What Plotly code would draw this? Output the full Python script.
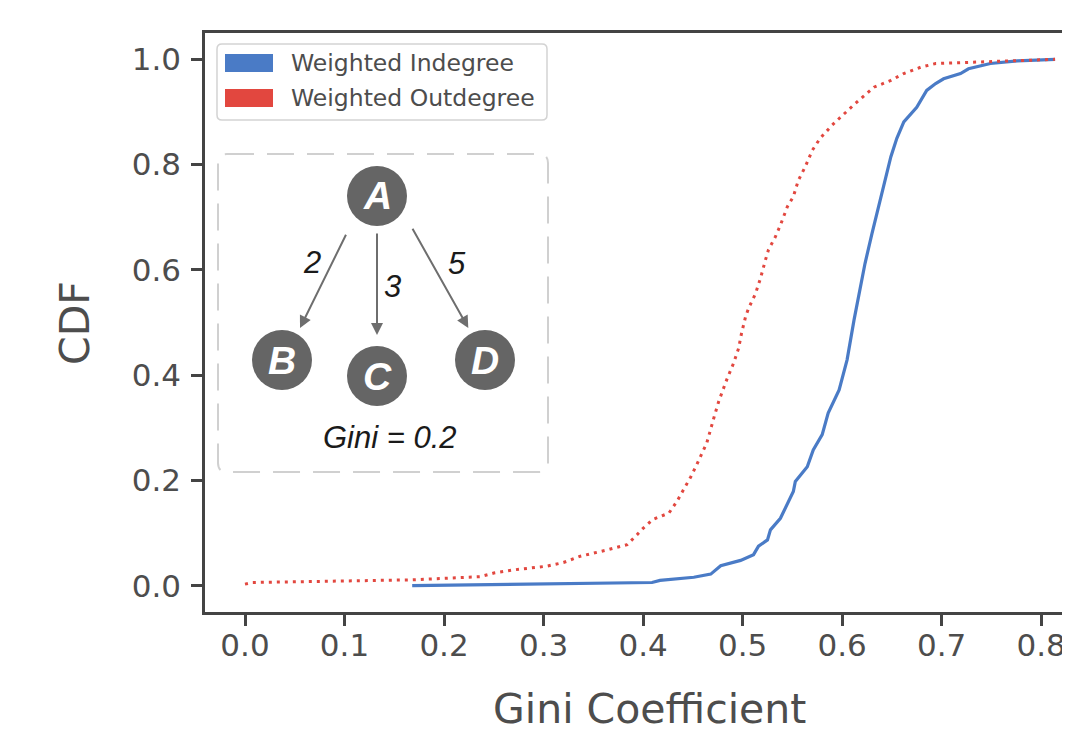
import plotly.graph_objects as go

# ---- data ----
indeg_x = [0.168, 0.30, 0.409, 0.417, 0.451, 0.468, 0.474, 0.478, 0.498, 0.511, 0.516, 0.525,
           0.528, 0.538, 0.551, 0.553, 0.565, 0.571, 0.580, 0.586, 0.597, 0.605, 0.612, 0.617,
           0.623, 0.630, 0.635, 0.640, 0.644, 0.649, 0.655, 0.662, 0.675, 0.685, 0.694, 0.702,
           0.719, 0.727, 0.749, 0.776, 0.814]
indeg_y = [0.000, 0.003, 0.006, 0.010, 0.016, 0.022, 0.032, 0.038, 0.048, 0.059, 0.075, 0.087,
           0.106, 0.128, 0.179, 0.198, 0.226, 0.258, 0.287, 0.328, 0.372, 0.429, 0.505, 0.555,
           0.612, 0.669, 0.707, 0.745, 0.777, 0.815, 0.850, 0.881, 0.909, 0.941, 0.954, 0.963,
           0.973, 0.982, 0.992, 0.997, 1.000]

outdeg_x = [0.000, 0.007, 0.102, 0.166, 0.236, 0.250, 0.270, 0.303, 0.320, 0.337, 0.364, 0.384,
            0.394, 0.400, 0.410, 0.426, 0.434, 0.442, 0.448, 0.454, 0.464, 0.471, 0.476, 0.484,
            0.491, 0.496, 0.499, 0.503, 0.506, 0.513, 0.518, 0.523, 0.526, 0.533, 0.538, 0.545,
            0.551, 0.556, 0.563, 0.570, 0.578, 0.590, 0.602, 0.612, 0.632, 0.649, 0.662, 0.679,
            0.694, 0.709, 0.742, 0.776, 0.814]
outdeg_y = [0.003, 0.006, 0.009, 0.011, 0.017, 0.024, 0.030, 0.037, 0.044, 0.056, 0.068, 0.078,
            0.097, 0.109, 0.126, 0.138, 0.160, 0.186, 0.207, 0.230, 0.271, 0.318, 0.350, 0.391,
            0.423, 0.451, 0.480, 0.511, 0.527, 0.555, 0.584, 0.619, 0.638, 0.663, 0.685, 0.720,
            0.739, 0.770, 0.796, 0.827, 0.850, 0.875, 0.897, 0.914, 0.947, 0.960, 0.973, 0.985,
            0.992, 0.993, 0.995, 0.998, 1.000]

series_names = ["Weighted Indegree", "Weighted Outdegree"]
series_colors = ["#4a7bc6", "#e2473f"]
x_ticks = [0.0, 0.1, 0.2, 0.3, 0.4, 0.5, 0.6, 0.7, 0.8]
y_ticks = [0.0, 0.2, 0.4, 0.6, 0.8, 1.0]

# ---- layout helpers (reference-pixel -> paper) ----
OFF = 8                      # page body margin of the html page
FIG_W, FIG_H = 1070 - OFF, 734 - OFF
L, T, R, B = 205, 33, 1070, 612   # plot area in reference pixels
W, H = R - L, B - T


def px(x):
    return (x - L) / W


def py(y):
    return (B - y) / H


def rrect(x0, y0, x1, y1, r):
    pts = [
        ("M", x0 + r, y0), ("L", x1 - r, y0), ("Q", x1, y0, x1, y0 + r),
        ("L", x1, y1 - r), ("Q", x1, y1, x1 - r, y1), ("L", x0 + r, y1),
        ("Q", x0, y1, x0, y1 - r), ("L", x0, y0 + r), ("Q", x0, y0, x0 + r, y0),
    ]
    s = ""
    for p in pts:
        coords = p[1:]
        parts = [f"{px(coords[i]):.5f},{py(coords[i+1]):.5f}" for i in range(0, len(coords), 2)]
        s += p[0] + " " + " ".join(parts) + " "
    return s + "Z"


fig = go.Figure()
fig.add_trace(go.Scatter(x=indeg_x, y=indeg_y, mode="lines", name=series_names[0],
                         line=dict(color=series_colors[0], width=3.2), showlegend=False))
fig.add_trace(go.Scatter(x=outdeg_x, y=outdeg_y, mode="lines", name=series_names[1],
                         line=dict(color=series_colors[1], width=3, dash="3px,5px"),
                         showlegend=False))

shapes = []
annotations = []

# legend box
shapes.append(dict(type="path", xref="paper", yref="paper", path=rrect(217, 44, 547, 120, 5),
                   line=dict(color="#d3d3d3", width=1.5), fillcolor="white"))
for i, (nm, col) in enumerate(zip(series_names, series_colors)):
    yc = 63 + 35 * i
    shapes.append(dict(type="rect", xref="paper", yref="paper",
                       x0=px(225), x1=px(273), y0=py(yc - 9), y1=py(yc + 9),
                       line=dict(width=0), fillcolor=col))
    annotations.append(dict(text=nm, xref="paper", yref="paper", x=px(289), y=py(yc),
                            xanchor="left", yanchor="middle", showarrow=False,
                            font=dict(family="DejaVu Sans", size=23.5, color="#4d4d4d")))

# inset box
shapes.append(dict(type="path", xref="paper", yref="paper", path=rrect(218, 154, 548, 472, 9),
                   line=dict(color="#d0d0d0", width=2, dash="27px,13px")))

# nodes
nodes = {"A": (377, 196), "B": (282, 360), "C": (377, 376), "D": (485, 360)}
for lab, (cx, cy) in nodes.items():
    shapes.append(dict(type="circle", xref="paper", yref="paper", xsizemode="pixel",
                       ysizemode="pixel", xanchor=px(cx), yanchor=py(cy),
                       x0=-30, x1=30, y0=-30, y1=30,
                       line=dict(width=0), fillcolor="#656565"))
    annotations.append(dict(text=f"<b><i>{lab}</i></b>", xref="paper", yref="paper",
                            x=px(cx), y=py(cy), xanchor="center", yanchor="middle",
                            showarrow=False,
                            font=dict(family="Liberation Sans", size=39, color="white")))

# arrows
arrows = [((346.7, 233.3), (300, 328)), ((377, 232), (377, 335)), ((411.7, 227.3), (468.3, 328))]
for (tx, ty), (hx, hy) in arrows:
    annotations.append(dict(text="", xref="paper", yref="paper", x=px(hx), y=py(hy),
                            ax=tx - hx, ay=ty - hy, showarrow=True, arrowhead=2,
                            arrowsize=1.2, arrowwidth=2, arrowcolor="#6e6e6e", standoff=0))

# edge labels and Gini text
for txt, (lx, ly), sz in [("2", (312, 262), 31), ("3", (392, 286), 31), ("5", (457, 263), 31),
                          ("Gini = 0.2", (390, 437), 31)]:
    annotations.append(dict(text=f"<i>{txt}</i>", xref="paper", yref="paper", x=px(lx), y=py(ly),
                            xanchor="center", yanchor="middle", showarrow=False,
                            font=dict(family="Liberation Sans", size=sz, color="#1a1a1a")))

# axis titles
annotations.append(dict(text="Gini Coefficient", xref="paper", yref="paper", x=px(649), y=py(709),
                        xanchor="center", yanchor="middle", showarrow=False,
                        font=dict(family="DejaVu Sans", size=41, color="#4d4d4d")))
annotations.append(dict(text="CDF", xref="paper", yref="paper", x=px(75), y=py(323),
                        xanchor="center", yanchor="middle", showarrow=False, textangle=-90,
                        font=dict(family="DejaVu Sans", size=41, color="#4d4d4d")))

axis_common = dict(showgrid=False, zeroline=False, showline=True, linecolor="#444444",
                   linewidth=2.5, ticks="outside", ticklen=11, tickwidth=2.5, tickcolor="#444444",
                   tickfont=dict(family="DejaVu Sans", size=31, color="#4d4d4d"))

fig.update_layout(
    width=FIG_W, height=FIG_H, autosize=False,
    margin=dict(l=L - OFF, r=FIG_W - (R - OFF), t=T - OFF, b=FIG_H - (B - OFF), pad=0),
    plot_bgcolor="white", paper_bgcolor="white",
    xaxis=dict(range=[-0.0402, 0.829], tickvals=x_ticks, tickformat=".1f", mirror=True,
               ticklabelstandoff=-7, **axis_common),
    yaxis=dict(range=[-0.05, 1.05], tickvals=y_ticks, tickformat=".1f",
               ticklabelstandoff=4, **axis_common),
    shapes=shapes, annotations=annotations, showlegend=False,
)

fig.write_html("out.html")
